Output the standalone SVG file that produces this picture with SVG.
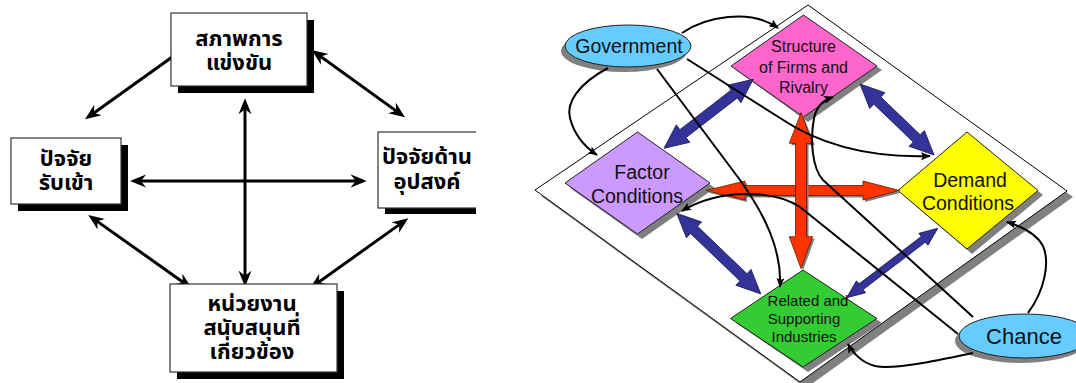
<svg xmlns="http://www.w3.org/2000/svg" width="1076" height="383" viewBox="0 0 1076 383">
  <style>
    .box { fill: #ffffff; stroke: #333333; stroke-width: 1.2; }
    .boxshadow { fill: #000000; }
    .thai { font-family: "Tahoma", "Noto Sans Thai", "Loma", "Garuda", "DejaVu Sans", sans-serif; font-weight: bold; font-size: 22px; fill: #000000; text-anchor: middle; }
    .link { fill: none; stroke: #000000; stroke-width: 3; marker-start: url(#barb); marker-end: url(#barb); }
    .shade { fill: #808080; }
    .node { stroke: #222222; stroke-width: 1; }
    .lbl { font-family: "Liberation Sans", "DejaVu Sans", sans-serif; fill: #111111; text-anchor: middle; }
    .blue { fill: #333399; stroke: #1a1a4d; stroke-width: 0.8; }
    .red { fill: #ff3300; stroke: #5a1a00; stroke-width: 0.8; }
    .curve { fill: none; stroke: #000000; stroke-width: 2; marker-end: url(#tip); }
  </style>
  <defs>
    <marker id="barb" markerUnits="userSpaceOnUse" viewBox="0 0 16 14" markerWidth="16" markerHeight="14" refX="8" refY="7" orient="auto-start-reverse">
      <path d="M16,7 L0,0.5 L5,7 L0,13.5 Z" fill="#000000"/>
    </marker>
    <marker id="tip" markerUnits="userSpaceOnUse" viewBox="0 0 10 8" markerWidth="10" markerHeight="8" refX="9" refY="4" orient="auto">
      <path d="M10,4 L0,0 L2,4 L0,8 Z" fill="#000000"/>
    </marker>
    <clipPath id="leftpane">
      <rect x="0" y="0" width="476" height="383"/>
    </clipPath>
  </defs>

  <rect x="0" y="0" width="1076" height="383" fill="#ffffff"/>

  <!-- Thai diamond model -->
  <g clip-path="url(#leftpane)">
    <g id="connectors-thai">
      <line class="link" x1="91.5" y1="114.7" x2="180.2" y2="51.3"/>
      <line class="link" x1="318.2" y1="54.7" x2="398.5" y2="112.6"/>
      <line class="link" x1="94.8" y1="219.6" x2="185.2" y2="283.7"/>
      <line class="link" x1="401.8" y1="222.9" x2="316.5" y2="283.7"/>
      <line class="link" x1="245" y1="106.3" x2="245" y2="278.7"/>
      <line class="link" x1="138" y1="181" x2="358.7" y2="181"/>
    </g>

    <g id="rivalry-th">
      <rect class="boxshadow" x="178" y="20" width="136" height="73"/>
      <rect class="box" x="171" y="13" width="136" height="73"/>
      <text class="thai" x="239" y="46">สภาพการ</text>
      <text class="thai" x="239" y="70">แข่งขัน</text>
    </g>

    <g id="factor-th">
      <rect class="boxshadow" x="18" y="145" width="110" height="66"/>
      <rect class="box" x="11" y="138" width="110" height="66"/>
      <text class="thai" x="66" y="166">ปัจจัย</text>
      <text class="thai" x="66" y="190">รับเข้า</text>
    </g>

    <g id="demand-th">
      <rect class="boxshadow" x="385" y="139" width="100" height="75"/>
      <rect class="box" x="378" y="132" width="100" height="76"/>
      <text class="thai" x="427" y="164">ปัจจัยด้าน</text>
      <text class="thai" x="427" y="189">อุปสงค์</text>
    </g>

    <g id="related-th">
      <rect class="boxshadow" x="177" y="291" width="167" height="88"/>
      <rect class="box" x="170" y="284" width="167" height="88"/>
      <text class="thai" x="252" y="311">หน่วยงาน</text>
      <text class="thai" x="252" y="335">สนับสนุนที่</text>
      <text class="thai" x="252" y="359">เกี่ยวข้อง</text>
    </g>
  </g>

  <!-- Porter diamond -->
  <g id="frame">
    <polygon class="shade" points="814,11 1073,197 806,388 541,196"/>
    <polygon points="808,5 1067,191 800,382 535,190" fill="#ffffff" stroke="#000000" stroke-width="1"/>
  </g>

  <g id="structure">
    <polygon class="shade" points="808,20 882,70 808,122 736,70"/>
    <polygon class="node" points="803.5,15 877,66 803.5,117 731,66" fill="#ff66cc"/>
    <text class="lbl" font-size="16" x="803.5" y="52">Structure</text>
    <text class="lbl" font-size="16" x="803.5" y="73">of Firms and</text>
    <text class="lbl" font-size="16" x="803.5" y="93">Rivalry</text>
  </g>

  <g id="factor">
    <polygon class="shade" points="642,137 715,188 642,239 570,188"/>
    <polygon class="node" points="637.5,132 710,183 637.5,234 565,183" fill="#cc99ff"/>
    <text class="lbl" font-size="19.5" x="642" y="179">Factor</text>
    <text class="lbl" font-size="19.5" x="637" y="203">Conditions</text>
  </g>

  <g id="demand">
    <polygon class="shade" points="972,137 1043,195 972,254 903,195"/>
    <polygon class="node" points="967,132 1038,190.5 967,249 898,190.5" fill="#ffff00"/>
    <text class="lbl" font-size="19.5" x="970" y="187">Demand</text>
    <text class="lbl" font-size="19.5" x="968" y="210">Conditions</text>
  </g>

  <g id="related">
    <polygon class="shade" points="808,275 882,323 808,372 736,323"/>
    <polygon class="node" points="803,270 877,318.5 803,367 730.5,318.5" fill="#33cc33"/>
    <text class="lbl" font-size="15" x="808" y="306">Related and</text>
    <text class="lbl" font-size="15" x="804" y="324">Supporting</text>
    <text class="lbl" font-size="15" x="804" y="342">Industries</text>
  </g>

  <g id="government">
    <ellipse class="shade" cx="624" cy="51" rx="63" ry="21"/>
    <ellipse class="node" cx="628" cy="46" rx="63" ry="21" fill="#66ccff"/>
    <text class="lbl" font-size="19.5" x="629" y="53">Government</text>
  </g>

  <g id="chance">
    <ellipse class="shade" cx="1021" cy="341" rx="66" ry="22"/>
    <ellipse class="node" cx="1025" cy="336" rx="66" ry="22" fill="#66ccff"/>
    <text class="lbl" font-size="22" x="1024" y="344">Chance</text>
  </g>

  <g id="connectors-porter">
    <!-- two-way links between the four determinants -->
    <path class="blue" transform="translate(664,148.3) rotate(-37.7)" d="M0,0 L24,-11 L24,-5 L88.8,-5 L88.8,-11 L112.8,0 L88.8,11 L88.8,5 L24,5 L24,11 Z"/>
    <path class="blue" transform="translate(860,84) rotate(43.8)" d="M0,0 L24,-11 L24,-5 L78.6,-5 L78.6,-11 L102.6,0 L78.6,11 L78.6,5 L24,5 L24,11 Z"/>
    <path class="blue" transform="translate(676.7,213.3) rotate(43.8)" d="M0,0 L24,-11 L24,-5 L92.5,-5 L92.5,-11 L116.5,0 L92.5,11 L92.5,5 L24,5 L24,11 Z"/>
    <path class="blue" transform="translate(846.7,297.7) rotate(-37.3)" d="M0,0 L18,-7.5 L18,-3.5 L96.4,-3.5 L96.4,-7.5 L114.4,0 L96.4,7.5 L96.4,3.5 L18,3.5 L18,7.5 Z"/>

    <!-- central cross -->
    <path class="shade" transform="translate(2,2)" d="M706,190.5 L745,181 L745,185.5 L863,185.5 L863,181 L899.5,190.5 L863,200 L863,195.5 L745,195.5 L745,200 Z"/>
    <path class="red" d="M706,190.5 L745,181 L745,185.5 L863,185.5 L863,181 L899.5,190.5 L863,200 L863,195.5 L745,195.5 L745,200 Z"/>
    <path class="shade" transform="translate(2,2)" d="M801,112.7 L812.7,143.3 L806.5,143.3 L806.5,236.7 L812.7,236.7 L801,268.5 L789.3,236.7 L795.5,236.7 L795.5,143.3 L789.3,143.3 Z"/>
    <path class="red" d="M801,112.7 L812.7,143.3 L806.5,143.3 L806.5,236.7 L812.7,236.7 L801,268.5 L789.3,236.7 L795.5,236.7 L795.5,143.3 L789.3,143.3 Z"/>

    <!-- influences of government -->
    <path class="curve" d="M682,33 C705,17 750,8 778,28"/>
    <path class="curve" stroke-width="1.6" d="M608,68 C578,84 566,103 570,118 C574,134 585,147 597,155"/>
    <path class="curve" d="M657,69 L740,180 C765,215 782,250 780,287"/>
    <path class="curve" d="M687,59 L780,118 C820,145 870,158 930,156"/>

    <!-- influences of chance -->
    <path class="curve" d="M973,317 L823,180 C812,168 810,140 814,118 C817,105 824,100 833,97"/>
    <path class="curve" d="M958,334 L800,207 C775,190 720,188 682,211"/>
    <path class="curve" d="M1028,313 C1045,290 1050,262 1043,246 C1036,233 1020,226 1007,222"/>
    <path class="curve" d="M973,353 C940,360 895,370 875,366 C862,363 852,352 848,344"/>
  </g>
</svg>
